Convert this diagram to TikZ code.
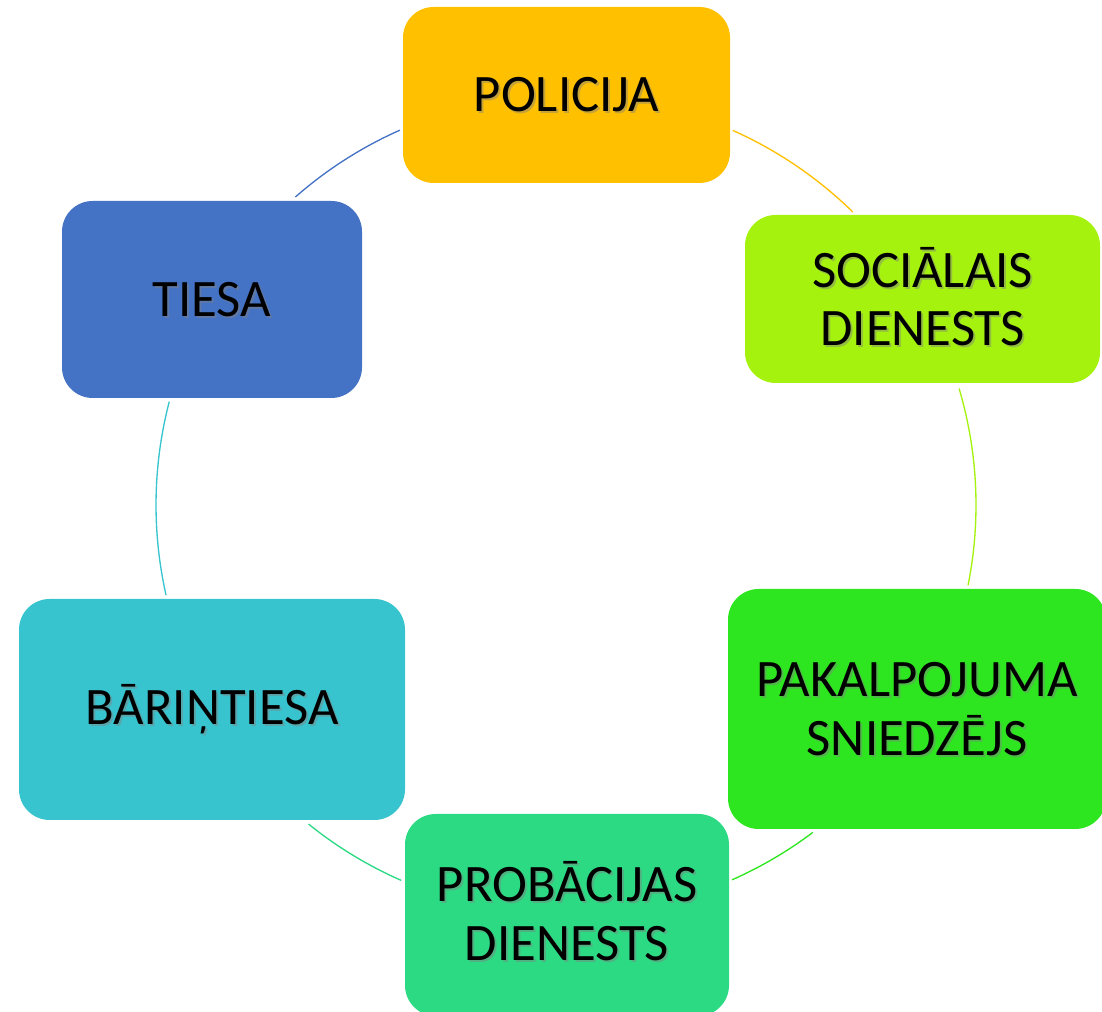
\documentclass[tikz,border=0pt]{standalone}
\usepackage{fontspec}
\setmainfont{Carlito}
\usetikzlibrary{calc}
\definecolor{cPol}{HTML}{FFC000}
\definecolor{cSoc}{HTML}{A6F20F}
\definecolor{cPak}{HTML}{2EE620}
\definecolor{cPro}{HTML}{2CDA84}
\definecolor{cBar}{HTML}{38C4CF}
\definecolor{cTie}{HTML}{4472C4}
\tikzset{
  box/.style={draw=none, rounded corners=23pt, inner sep=0pt},
  txt/.style={text=black, align=center, font=\fontsize{39.5}{44}\selectfont, inner sep=0pt},
  shtxt/.style={txt, text=black!50, opacity=0.45},
  arcline/.style={line width=1pt},
}
\begin{document}
\begin{tikzpicture}[x=0.75pt, y=0.75pt]
\useasboundingbox (0,0) rectangle (1102,1012);
\clip (0,0) rectangle (1102,1012);
\coordinate (c) at (566,507);
% boxes
\node[box, fill=cPol, minimum width=245.25pt, minimum height=132pt] (pol) at (566.5,917) {};
\node[box, fill=cSoc, minimum width=266.25pt, minimum height=126pt] (soc) at (922.5,713) {};
\node[box, fill=cPak, minimum width=283.5pt, minimum height=180pt] (pak) at (917,303) {};
\node[box, fill=cPro, minimum width=243pt, minimum height=151.5pt] (pro) at (567,97) {};
\node[box, fill=cBar, minimum width=289.5pt, minimum height=165.75pt] (bar) at (212,302.5) {};
\node[box, fill=cTie, minimum width=225pt, minimum height=147.75pt] (tie) at (212,712.5) {};
% arcs
\draw[arcline, cTie] ($(c)+(131.3:307.5pt)$) arc[start angle=131.3, end angle=113.9, radius=307.5pt];
\draw[arcline, cPol] ($(c)+(66.0:307.5pt)$) arc[start angle=66.0, end angle=45.6, radius=307.5pt];
\draw[arcline, cSoc] ($(c)+(16.5:307.5pt)$) arc[start angle=16.5, end angle=-11.3, radius=307.5pt];
\draw[arcline, cPak] ($(c)+(-53.0:307.5pt)$) arc[start angle=-53.0, end angle=-66.1, radius=307.5pt];
\draw[arcline, cPro] ($(c)+(-113.7:307.5pt)$) arc[start angle=-113.7, end angle=-128.9, radius=307.5pt];
\draw[arcline, cBar] ($(c)+(-167.3:307.5pt)$) arc[start angle=-167.3, end angle=-194.6, radius=307.5pt];
% texts with shadow
\node[shtxt] (pols) at ($(pol)+(2,-2)$) {POLICIJA};
\node[txt] (polt) at (pol) {POLICIJA};
\node[shtxt] (socs) at ($(soc)+(2,0.5)$) {SOCIĀLAIS\\DIENESTS};
\node[txt] (soct) at ($(soc)+(0,2.5)$) {SOCIĀLAIS\\DIENESTS};
\node[shtxt] (paks) at ($(pak)+(2,-2)$) {PAKALPOJUMA\\SNIEDZĒJS};
\node[txt] (pakt) at (pak) {PAKALPOJUMA\\SNIEDZĒJS};
\node[shtxt] (pros) at ($(pro)+(2,2)$) {PROBĀCIJAS\\DIENESTS};
\node[txt] (prot) at ($(pro)+(0,4)$) {PROBĀCIJAS\\DIENESTS};
\node[shtxt] (bars) at ($(bar)+(2,-2)$) {BĀRIŅTIESA};
\node[txt] (bart) at (bar) {BĀRIŅTIESA};
\node[shtxt] (ties) at ($(tie)+(2,-2)$) {TIESA};
\node[txt] (tiet) at (tie) {TIESA};
\end{tikzpicture}
\end{document}
